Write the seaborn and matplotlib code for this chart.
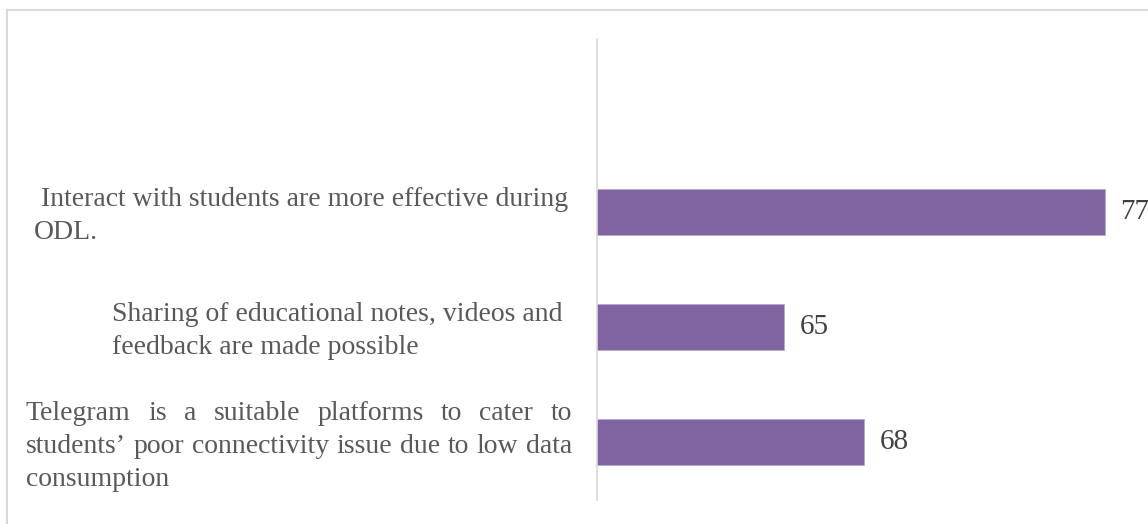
import numpy as np
import pandas as pd
import matplotlib
matplotlib.use("Agg")
import matplotlib.pyplot as plt
import seaborn as sns
from matplotlib.patches import Rectangle

# ---- data ----
categories = [
    "Interact with students are more effective during ODL.",
    "Sharing of educational notes, videos and feedback are made possible",
    "Telegram is a suitable platforms to cater to students’ poor connectivity issue due to low data consumption",
]
values = [77, 65, 68]
value_labels = ["77", "65", "68"]
label_lines = [
    ["Interact with students are more effective during", "ODL."],
    ["Sharing of educational notes, videos and", "feedback are made possible"],
    ["Telegram is a suitable platforms to cater to",
     "students’ poor connectivity issue due to low data",
     "consumption"],
]

# ---- style / layout ----
sns.set_theme(style="white")
plt.rcParams["font.family"] = ["Liberation Serif", "DejaVu Serif"]

W, H = 1148, 524
fig = plt.figure(figsize=(W / 100, H / 100), dpi=100)
fig.patch.set_facecolor("white")
ax = fig.add_axes([597 / W, (H - 500) / H, 1 - 597 / W, (500 - 39) / H])

order = [""] + categories
df = pd.DataFrame({"category": categories, "value": values})
sns.barplot(data=df, x="value", y="category", order=order, orient="h",
            color="#8064A2", saturation=1, width=0.4, ax=ax,
            edgecolor="#B9A9D0", linewidth=0.6)

ax.set_xlim(58, 58 + (W - 597) / 26.75)
ax.set_xlabel("")
ax.set_ylabel("")
ax.set_xticks([])
ax.set_yticklabels([])
ax.tick_params(left=False, bottom=False)
for s in ["top", "right", "bottom"]:
    ax.spines[s].set_visible(False)
ax.spines["left"].set_color("#d9d9d9")
ax.spines["left"].set_linewidth(1.2)

ax.bar_label(ax.containers[0], labels=value_labels, padding=11,
             fontsize=21, color="#404040", clip_on=False)

# outer frame
fig.add_artist(Rectangle((7 / W, -0.1), 1.2, (H - 10) / H + 0.1,
                         transform=fig.transFigure, fill=False,
                         ec="#d9d9d9", lw=1.5))

# category labels (left-aligned / justified)
fig.canvas.draw()
renderer = fig.canvas.get_renderer()
fs = 20
tcolor = "#595959"
line_h = 33
shift = -4
lefts = [[41, 34], [112, 112], [26, 26, 26]]
justify = [[False, False], [False, False], [True, True, False]]
right_edge = 572

def put(x, y, s):
    return fig.text(x / W, y / H, s, fontsize=fs, color=tcolor,
                    ha="left", va="center")

for i, lines in enumerate(label_lines):
    yc = ax.transData.transform((0, i + 1))[1] + shift
    n = len(lines)
    for j, line in enumerate(lines):
        y = yc + (n - 1) / 2 * line_h - j * line_h
        x0 = lefts[i][j]
        if justify[i][j]:
            words = line.split(" ")
            ts = [put(0, y, w) for w in words]
            widths = [t.get_window_extent(renderer).width for t in ts]
            gap = max((right_edge - x0 - sum(widths)) / (len(words) - 1), 4)
            x = x0
            for t, w in zip(ts, widths):
                t.set_x(x / W)
                x += w + gap
        else:
            put(x0, y, line)

fig.savefig("out.png", dpi=100, facecolor="white")
